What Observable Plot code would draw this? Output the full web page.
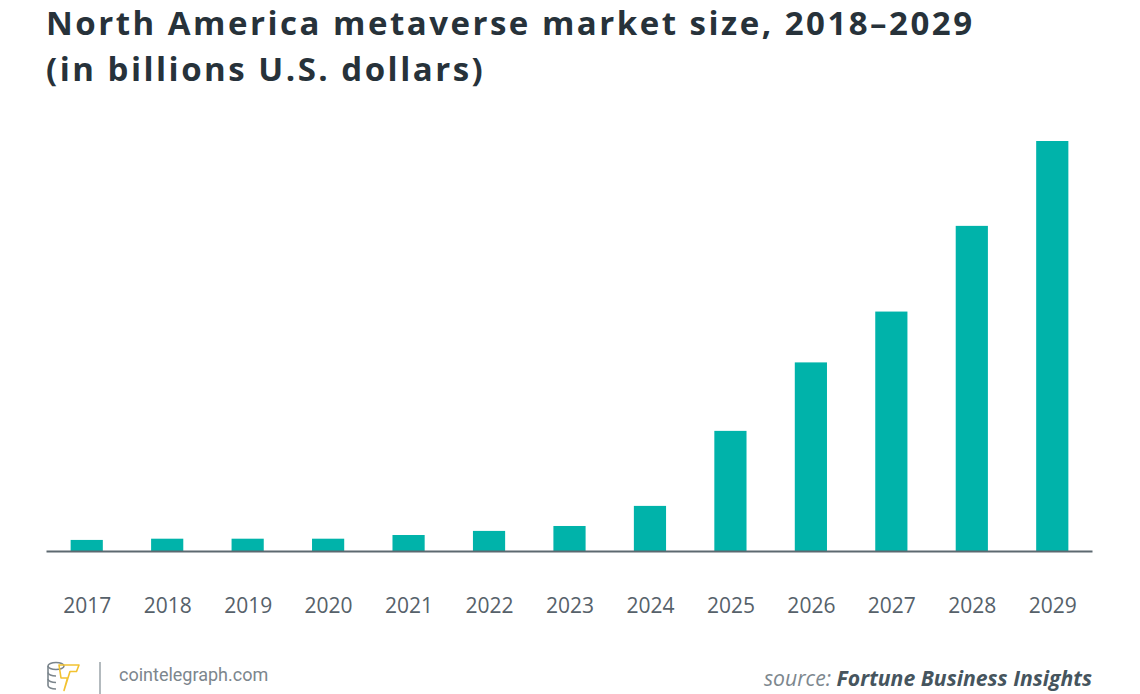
<!DOCTYPE html>
<html>
<head>
<meta charset="utf-8">
<script src="https://cdn.jsdelivr.net/npm/d3@7"></script>
<script src="https://cdn.jsdelivr.net/npm/@observablehq/plot@0.6"></script>
<style>
  html, body { margin: 0; padding: 0; background: #fff; }
  body { width: 1140px; height: 694px; position: relative; overflow: hidden; font-family: "Open Sans", sans-serif; }
  .title { position: absolute; left: 46px; font-size: 33px; font-weight: 700; color: #27323a; line-height: 34px; letter-spacing: 2.5px; white-space: nowrap; }
  #t1 { top: 6px; }
  #t2 { top: 52px; }
  #chart { position: absolute; left: 0; top: 100px; }
  #logo { position: absolute; left: 44px; top: 660px; }
  #site { position: absolute; left: 119px; top: 664px; font-family: Roboto, sans-serif; font-size: 18px; color: #7c868d; }
  #source { position: absolute; right: 48px; top: 663px; font-size: 21.2px; font-style: italic; color: #7d878e; white-space: nowrap; }
  #source b { color: #46555e; font-weight: 700; }
</style>
</head>
<body>
<div class="title" id="t1">North America metaverse market size, 2018–2029</div>
<div class="title" id="t2">(in billions U.S. dollars)</div>
<div id="chart"></div>
<svg id="logo" width="64" height="34" viewBox="0 0 64 34">
  <g fill="none" stroke="#7b858c" stroke-width="1.6">
    <ellipse cx="12" cy="6" rx="8" ry="3.5"/>
    <path d="M4 6v6.5c0 2 3.6 3.5 8 3.5"/>
    <path d="M4 12.5v6.5c0 2 3.6 3.5 8 3.5"/>
    <path d="M4 19v6.5c0 2 3.6 3.5 8 3.5"/>
  </g>
  <path d="M15 5h20l-2.5 6.5h-6.5l-6 19 3.5-12.5h-6.5z" fill="none" stroke="#f2c230" stroke-width="1.6" stroke-linejoin="round"/>
  <line x1="56" y1="2" x2="56" y2="34" stroke="#9aa3a9" stroke-width="1.5"/>
</svg>
<div id="site">cointelegraph.com</div>
<div id="source">source: <b>Fortune Business Insights</b></div>
<script>
const years = ["2017","2018","2019","2020","2021","2022","2023","2024","2025","2026","2027","2028","2029"];
const values = [2.7, 3.0, 3.0, 3.0, 3.9, 4.9, 6.1, 11.0, 29.3, 46.0, 58.4, 79.3, 100.0];

const data = years.map((y, i) => ({year: y, value: values[i]}));

const chart = Plot.plot({
  width: 1140,
  height: 540,
  marginLeft: 46.5,
  marginRight: 47.5,
  marginTop: 41,
  marginBottom: 89,
  style: { fontFamily: "'Open Sans', sans-serif", background: "transparent" },
  x: { domain: years, paddingInner: 0.6, paddingOuter: 0.3, round: false, label: null },
  y: { domain: [0, 100], axis: null },
  marks: [
    Plot.barY(data, { x: "year", y: "value", fill: "#00b3aa" }),
    Plot.ruleY([0], { stroke: "#5d6970", strokeWidth: 2 }),
    Plot.axisX({ tickSize: 0, tickPadding: 47, fontSize: 21, color: "#56616a", label: null })
  ]
});
document.getElementById("chart").appendChild(chart);
</script>
</body>
</html>
